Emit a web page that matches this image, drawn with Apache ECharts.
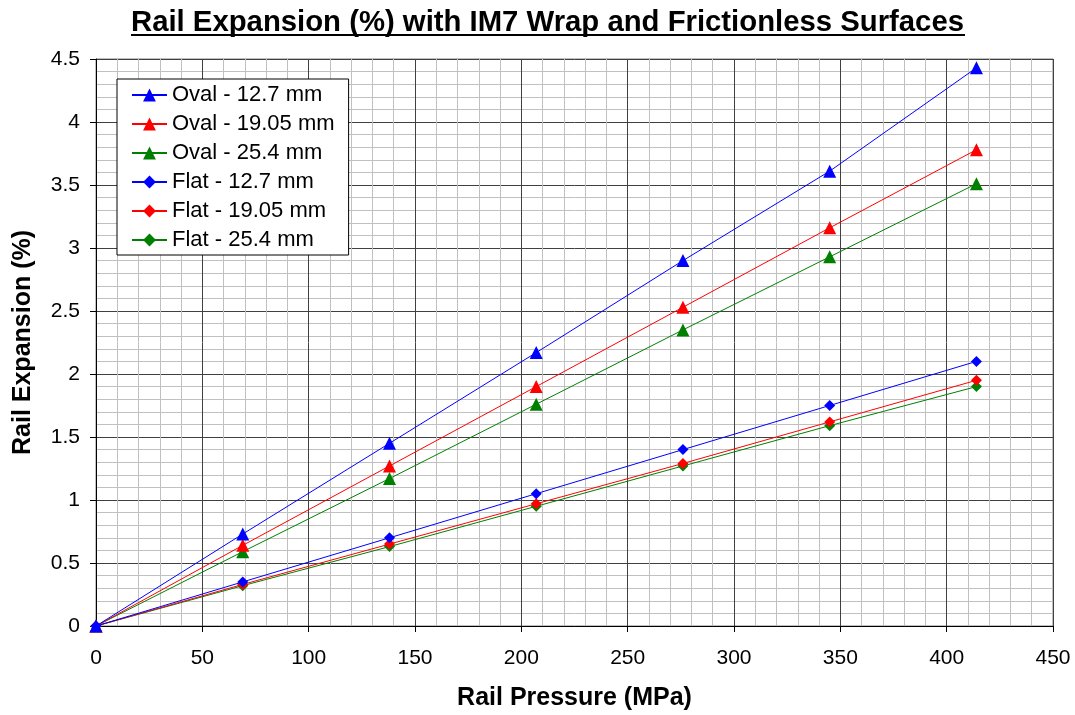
<!DOCTYPE html>
<html><head><meta charset="utf-8">
<script src="https://cdn.jsdelivr.net/npm/echarts@6/dist/echarts.min.js"></script>
<style>html,body{margin:0;padding:0;background:#fff}#c{width:1075px;height:715px}</style>
</head><body><div id="c"></div>
<script>
const pressures = [0, 69, 138, 207, 276, 345, 414];
const oval127 = [0, 0.73, 1.45, 2.17, 2.90, 3.61, 4.43];
const oval1905 = [0, 0.64, 1.27, 1.90, 2.53, 3.16, 3.78];
const oval254 = [0, 0.59, 1.17, 1.76, 2.35, 2.93, 3.51];
const flat127 = [0, 0.35, 0.70, 1.05, 1.40, 1.75, 2.10];
const flat1905 = [0, 0.33, 0.65, 0.97, 1.29, 1.62, 1.95];
const flat254 = [0, 0.32, 0.63, 0.95, 1.27, 1.59, 1.90];
const seriesNames = ['Oval - 12.7 mm','Oval - 19.05 mm','Oval - 25.4 mm','Flat - 12.7 mm','Flat - 19.05 mm','Flat - 25.4 mm'];
const seriesData = [oval127, oval1905, oval254, flat127, flat1905, flat254];
const colors = ['#0000ff','#ff0000','#008000','#0000ff','#ff0000','#008000'];
const symbols = ['triangle','triangle','triangle','diamond','diamond','diamond'];

const chart = echarts.init(document.getElementById('c'));
const font = 'Liberation Sans, Arial, sans-serif';
chart.setOption({
  animation: false,
  title: {
    text: 'Rail Expansion (%) with IM7 Wrap and Frictionless Surfaces',
    left: 126, top: 3,
    textStyle: {fontFamily: font, fontSize: 29.3, fontWeight: 'bold', color: '#000'}
  },
  graphic: [{type:'line', shape:{x1:131, y1:35, x2:965, y2:35}, style:{stroke:'#000', lineWidth:2}}],
  grid: {left: 96, right: 22, top: 59, bottom: 89, show: true, borderColor: '#808080', borderWidth: 1, outerBoundsMode: 'none', containLabel: false},
  legend: {
    orient: 'vertical', left: 117, top: 79,
    data: seriesNames,
    backgroundColor: '#fff', borderColor: '#000', borderWidth: 1,
    padding: [5, 14, 4, 14],
    itemWidth: 35, itemHeight: 16, itemGap: 7,
    textStyle: {fontFamily: font, fontSize: 22, color: '#000'}
  },
  xAxis: {
    type: 'value', min: 0, max: 450, interval: 50,
    name: 'Rail Pressure (MPa)', nameLocation: 'middle', nameGap: 60,
    nameTextStyle: {fontFamily: font, fontSize: 25, fontWeight: 'bold', color: '#000'},
    axisLine: {onZero: false, lineStyle: {color: '#000', width: 1}},
    axisTick: {show: true, inside: false, length: 6, lineStyle: {color: '#000'}},
    axisLabel: {fontFamily: font, fontSize: 21, color: '#000', margin: 22},
    splitLine: {show: true, lineStyle: {color: '#404040', width: 1}},
    minorTick: {show: false, splitNumber: 5},
    minorSplitLine: {show: true, lineStyle: {color: '#c0c0c0', width: 1}}
  },
  yAxis: {
    type: 'value', min: 0, max: 4.5, interval: 0.5,
    name: 'Rail Expansion (%)', nameLocation: 'middle', nameGap: 60,
    nameTextStyle: {fontFamily: font, fontSize: 25, fontWeight: 'bold', color: '#000'},
    axisLine: {show: true, onZero: false, lineStyle: {color: '#000', width: 1}},
    axisTick: {show: true, inside: false, length: 6, lineStyle: {color: '#000'}},
    axisLabel: {fontFamily: font, fontSize: 21, color: '#000', margin: 16},
    splitLine: {show: true, lineStyle: {color: '#404040', width: 1}},
    minorTick: {show: false, splitNumber: 5},
    minorSplitLine: {show: true, lineStyle: {color: '#c0c0c0', width: 1}}
  },
  series: seriesNames.map((n, i) => ({
    name: n, type: 'line',
    data: pressures.map((p, j) => [p, seriesData[i][j]]),
    symbol: symbols[i], symbolSize: symbols[i] === 'triangle' ? 13 : 11,
    showAllSymbol: true,
    lineStyle: {color: colors[i], width: 1},
    itemStyle: {color: colors[i]},
    z: 10 - (i % 3)
  }))
});
</script></body></html>
